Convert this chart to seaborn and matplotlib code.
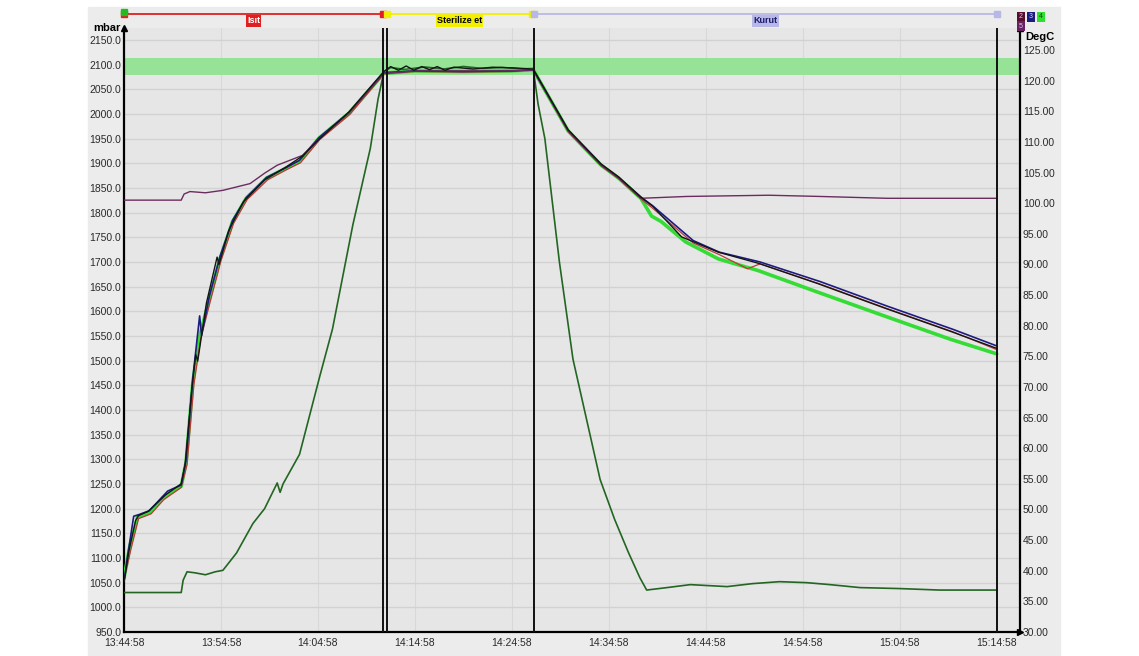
import pandas as pd
import numpy as np
import matplotlib
matplotlib.use('Agg')
import matplotlib.pyplot as plt
import matplotlib.dates as mdates
import matplotlib.transforms as mtransforms
from matplotlib.ticker import FormatStrFormatter, MultipleLocator
from matplotlib.patches import Rectangle
import seaborn as sns

sns.set_theme(style="white")
plt.rcParams['font.family'] = ['Liberation Sans', 'DejaVu Sans']

# ---- data (minutes after start) ----
start_time = '13:44:58'

# chamber pressure, mbar (left axis)
pressure_min = [0, 5.9, 6.1, 6.5, 7.3, 8.4, 9.4, 10.2, 11.6, 13.3, 14.5, 15.8, 16.1, 16.4,
                18.1, 20.2, 21.5, 23.6, 25.4, 26.2, 26.8, 27.5, 29.0, 31.0, 33.0, 35.0,
                37.0, 39.0, 41.0, 42.2, 42.7, 43.4, 44.9, 46.3, 49.1, 50.6, 52.0, 53.2,
                53.9, 56.0, 58.4, 62.2, 64.8, 67.6, 70.4, 72.8, 75.9, 80.0, 84.1, 90.0]
pressure_mbar = [1030, 1030, 1055, 1072, 1070, 1066, 1072, 1075, 1110, 1170, 1200, 1252, 1233, 1250,
                 1310, 1469, 1564, 1775, 1930, 2030, 2085, 2094, 2090, 2095, 2091, 2096,
                 2092, 2094, 2091, 2092, 2020, 1950, 1700, 1503, 1259, 1178, 1112, 1060,
                 1035, 1040, 1046, 1042, 1048, 1052, 1050, 1046, 1040, 1038, 1035, 1035]

# probe temperatures, DegC (right axis)
green_min = [0, 0.6, 1.4, 2.7, 4.0, 5.9, 6.4, 7.1, 7.8, 8.8, 9.9, 11.2, 12.6, 14.7, 16.7,
             18.1, 20.1, 23.2, 26.8, 30.0, 35.0, 40.0, 42.2, 45.8, 49.2, 51.0, 53.3, 54.4,
             55.4, 57.9, 61.3, 65.4, 71.5, 78.4, 85.2, 90.0]
green_degc = [38.8, 44.0, 48.8, 49.5, 51.9, 53.8, 57.7, 70.8, 78.3, 84.3, 90.9, 97.0, 100.8, 104.1, 105.7,
              106.8, 110.6, 114.7, 121.2, 121.6, 121.5, 121.6, 121.8, 111.8, 106.2, 104.1, 100.8, 97.9,
              97.0, 93.7, 90.9, 89.0, 85.5, 81.6, 77.8, 75.4]

black_min = [0, 0.5, 1.2, 1.5, 2.5, 3.5, 4.3, 5.9, 6.3, 7.0, 7.4, 7.6, 8.5, 9.6, 9.8, 10.8,
             12.3, 14.5, 16.7, 18.4, 20.1, 23.2, 26.8, 27.5, 28.3, 29.1, 29.9, 30.7, 31.5,
             32.3, 33.1, 34.0, 36.0, 38.0, 40.0, 42.2, 45.8, 49.2, 51.0, 53.3, 54.6, 57.5,
             61.3, 65.4, 71.5, 78.4, 85.2, 90.0]
black_degc = [38.1, 43.2, 48.2, 49.0, 49.7, 51.2, 52.4, 54.2, 57.3, 69.7, 75.3, 74.2, 83.7, 91.2, 90.0, 95.5,
              100.2, 103.8, 105.9, 107.7, 110.4, 114.9, 121.5, 122.3, 121.7, 122.4, 121.7, 122.3, 121.8,
              122.3, 121.7, 122.2, 121.9, 122.2, 122.1, 121.9, 112.0, 106.4, 104.3, 101.0, 99.4, 94.5,
              92.0, 90.2, 86.9, 82.9, 79.1, 76.3]

blue_min = [0, 0.4, 1.0, 1.6, 2.6, 3.8, 4.5, 5.9, 6.4, 7.1, 7.8, 8.0, 8.8, 9.9, 11.2,
            12.6, 14.7, 16.7, 18.1, 20.1, 23.2, 26.8, 30.0, 35.0, 40.0, 42.2, 45.8, 49.2,
            51.0, 53.3, 54.5, 58.7, 61.4, 65.6, 71.8, 78.7, 85.5, 90.0]
blue_degc = [38.3, 42.7, 48.9, 49.2, 49.8, 51.8, 53.0, 54.0, 58.1, 71.5, 81.6, 78.4, 84.8, 91.3, 97.2,
             100.9, 104.2, 105.8, 107.0, 110.7, 114.8, 121.3, 121.6, 121.5, 121.6, 121.8, 111.9, 106.3,
             104.2, 101.0, 99.6, 93.9, 92.0, 90.4, 87.2, 83.2, 79.4, 76.7]

red_min = [0, 0.7, 1.5, 2.8, 4.1, 5.9, 6.5, 7.2, 7.9, 8.9, 10.0, 11.3, 12.7, 14.8, 16.8,
           18.2, 20.2, 23.3, 26.8, 30.0, 35.0, 40.0, 42.2, 45.8, 49.2, 51.0, 53.3, 54.5,
           58.7, 61.4, 64.3, 65.6, 71.8, 78.7, 85.5, 90.0]
red_degc = [38.5, 43.4, 48.5, 49.3, 51.6, 53.6, 57.3, 70.3, 77.8, 84.0, 90.6, 96.7, 100.6, 103.8, 105.5,
            106.6, 110.4, 114.5, 121.1, 121.5, 121.4, 121.5, 121.7, 111.7, 106.1, 104.0, 100.7, 99.2,
            93.5, 91.6, 89.3, 90.1, 86.8, 82.8, 79.0, 76.1]

purple_min = [0, 5.9, 6.2, 6.8, 8.4, 10.2, 13.0, 14.5, 15.8, 18.4, 20.2, 23.2, 26.8, 30.0,
              35.0, 40.0, 42.2, 45.8, 49.2, 51.0, 53.3, 58.0, 66.5, 71.8, 78.7, 90.0]
purple_degc = [100.5, 100.5, 101.5, 101.9, 101.7, 102.1, 103.2, 104.9, 106.2, 107.8, 110.6, 114.7, 121.2, 121.6,
               121.6, 121.6, 121.8, 111.8, 106.2, 104.1, 100.8, 101.1, 101.3, 101.1, 100.8, 100.8]

# sterilisation tolerance band, DegC
band_degc = [121.0, 123.7]

# program phases
phase_names = ['Isıt', 'Sterilize et', 'Kurut']
phase_start = ['13:44:58', '14:12:04', '14:27:16']
phase_end = ['14:11:40', '14:27:04', '15:14:58']
phase_colors = ['#e02020', '#f2f000', '#b8b8e6']
phase_text_colors = ['white', 'black', '#1c1c6e']
phase_lines = ['14:11:40', '14:12:04', '14:27:16', '15:14:58']

x_tick_labels = ['13:44:58', '13:54:58', '14:04:58', '14:14:58', '14:24:58',
                 '14:34:58', '14:44:58', '14:54:58', '15:04:58', '15:14:58']

# ---- helpers ----
day = '2000-01-01 '
t0 = pd.Timestamp(day + start_time)


def to_time(minutes):
    return t0 + pd.to_timedelta(np.asarray(minutes, dtype=float), unit='min')


def clock(s):
    return pd.Timestamp(day + s)


fig = plt.figure(figsize=(11.39, 6.56), dpi=100, facecolor='white')
fig.patches.append(Rectangle((88 / 1139, 0), (1060 - 88) / 1139, 649 / 656,
                             transform=fig.transFigure, color='#ececec', zorder=-10))

# pressure axis underneath (carries background + grid), temperature axis on top
ax = fig.add_axes([124 / 1139, 24 / 656, 896 / 1139, 604 / 656])
ax.set_facecolor('#e6e6e6')
ax2 = ax.twinx()

ax.set_ylim(950, 2174)
ax2.set_ylim(30, 128.6)
ax.yaxis.set_major_locator(MultipleLocator(50))
ax.yaxis.set_major_formatter(FormatStrFormatter('%.1f'))
ax2.yaxis.set_major_locator(MultipleLocator(5))
ax2.yaxis.set_major_formatter(FormatStrFormatter('%.2f'))
ax.grid(True, axis='y', color='#d2d2d2', lw=1.0)
ax.grid(True, axis='x', color='#d8d8d8', lw=0.8)
ax.set_axisbelow(True)

# green tolerance band (in DegC), kept beneath the pressure trace
band_tr = mtransforms.blended_transform_factory(ax.transAxes, ax2.transData)
ax.add_patch(Rectangle((0, band_degc[0]), 1, band_degc[1] - band_degc[0], transform=band_tr,
                       color='#96e296', lw=0, zorder=1))

dfp = pd.DataFrame({'time': to_time(pressure_min), 'mbar': pressure_mbar})
sns.lineplot(data=dfp, x='time', y='mbar', ax=ax, color='#226622', lw=1.2,
             estimator=None, sort=False, zorder=4)

temp_series = [
    (green_min, green_degc, '#35dc35', 2.6),
    (red_min, red_degc, '#b83a3a', 0.9),
    (blue_min, blue_degc, '#1c1c82', 1.2),
    (purple_min, purple_degc, '#6a2c5e', 1.0),
    (black_min, black_degc, '#151515', 1.0),
]
for mins, vals, col, lw in temp_series:
    df = pd.DataFrame({'time': to_time(mins), 'degc': vals})
    sns.lineplot(data=df, x='time', y='degc', ax=ax2, color=col, lw=lw,
                 estimator=None, sort=False, zorder=3)

ticks = [clock(s) for s in x_tick_labels]
ax.set_xticks(ticks)
ax.set_xticklabels(x_tick_labels)
ax.set_xlim(t0, clock('15:17:22'))

for a in (ax, ax2):
    a.set_xlabel('')
    a.set_ylabel('')
    a.tick_params(length=0, labelsize=7.5, colors='#2a2a2a', pad=2)
    for s in a.spines.values():
        s.set_visible(False)
for a, side in ((ax, 'left'), (ax, 'bottom'), (ax2, 'right')):
    a.spines[side].set_visible(True)
    a.spines[side].set_color('black')
    a.spines[side].set_linewidth(1.6)
ax.tick_params(axis='x', pad=4)

# axis arrow heads
for xy, mk in (((0, 1), '^'), ((1, 1), '^'), ((1, 0), '>')):
    ax2.plot([xy[0]], [xy[1]], marker=mk, color='black', ms=5,
             transform=ax2.transAxes, clip_on=False)

ax.text(-0.004, 1.0, 'mbar', transform=ax.transAxes, ha='right', va='center',
        fontsize=8, fontweight='bold', color='black')
ax2.text(1.006, 0.985, 'DegC', transform=ax2.transAxes, ha='left', va='center',
         fontsize=8, fontweight='bold', color='black')

# phase boundaries
for s in phase_lines:
    ax2.axvline(clock(s), color='#111111', lw=1.4, zorder=6)

# phase bar on top
trans = ax2.get_xaxis_transform()
for name, s, e, col, tcol in zip(phase_names, phase_start, phase_end, phase_colors, phase_text_colors):
    xs, xe = clock(s), clock(e)
    ax2.plot([xs, xe], [1.023, 1.023], color=col, lw=1.3, transform=trans, clip_on=False)
    ax2.plot([xs, xe], [1.023, 1.023], ls='none', marker='s', ms=4, color=col,
             transform=trans, clip_on=False)
    ax2.text(xs + (xe - xs) / 2, 1.012, name, transform=trans, ha='center', va='center',
             fontsize=6.5, fontweight='bold', color=tcol, clip_on=False,
             bbox=dict(boxstyle='square,pad=0.15', fc=col, ec='none'))
ax2.plot([t0], [1.026], marker='s', ms=5, color='#22bb22', transform=trans, clip_on=False)

# channel legend boxes, top right
legend_boxes = [('2', '#5a0c2c', 1021, 17), ('3', '#1c1c80', 1031, 17),
                ('4', '#2ee02e', 1041, 17), ('5', '#6a2060', 1021, 26)]
for lab, col, px, py in legend_boxes:
    fig.text(px / 1139, 1 - py / 656, lab, fontsize=5,
             color='#114411' if lab == '4' else '#d0d0ff',
             ha='center', va='center',
             bbox=dict(boxstyle='square,pad=0.25', fc=col, ec='none'))

fig.savefig('out.png', dpi=100)
plt.close(fig)
